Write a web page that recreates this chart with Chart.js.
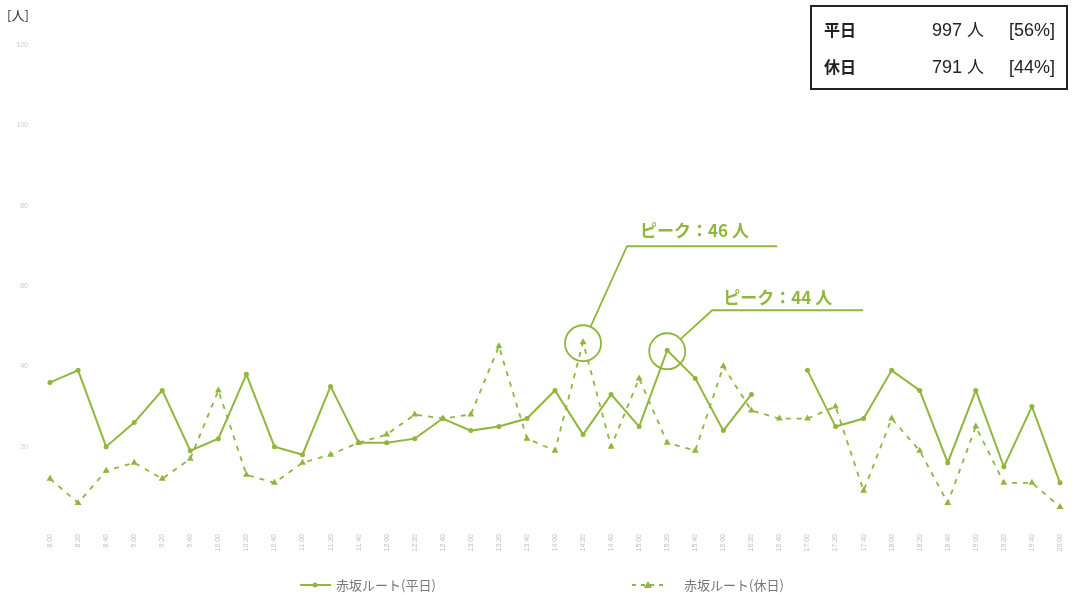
<!DOCTYPE html>
<html lang="ja">
<head>
    <meta charset="UTF-8">
    <title>赤坂ルート 時間帯別人数</title>
    <script src="https://cdn.jsdelivr.net/npm/chart.js"></script>
    <style>
        body {
            margin: 0;
            background: #fff;
            font-family: "Noto Sans CJK JP", "Noto Sans", sans-serif;
        }
        .wrap {
            position: relative;
            width: 1078px;
            height: 595px;
        }
        #unit {
            position: absolute;
            left: 7px;
            top: 5px;
            font-size: 13px;
            color: #333;
        }
        #summary {
            position: absolute;
            left: 810px;
            top: 5px;
            width: 254px;
            height: 81px;
            border: 2px solid #222;
            color: #222;
        }
        #summary .row {
            position: absolute;
            left: 0;
            width: 100%;
            height: 24px;
            display: flex;
            align-items: baseline;
        }
        .k { width: 88px; padding-left: 12px; font-size: 16px; font-weight: bold; }
        .n { width: 72px; text-align: right; font-family: "Liberation Sans", Arial, sans-serif; font-size: 18px; }
        .n b { font-family: "Noto Sans CJK JP"; font-weight: normal; font-size: 17px; }
        .p { flex: 1; text-align: right; padding-right: 11px; font-family: "Liberation Sans", Arial, sans-serif; font-size: 18px; }
    </style>
</head>
<body>
<div class="wrap">
    <canvas id="chart" width="1078" height="595"></canvas>
    <div id="unit">[人]</div>
    <div id="summary">
        <div class="row" style="top:9px"><span class="k">平日</span><span class="n">997 <b>人</b></span><span class="p">[56%]</span></div>
        <div class="row" style="top:46px"><span class="k">休日</span><span class="n">791 <b>人</b></span><span class="p">[44%]</span></div>
    </div>
</div>
<script>
    // 時間帯（20分刻み）
    var labels = ['8:00','8:20','8:40','9:00','9:20','9:40','10:00','10:20','10:40',
        '11:00','11:20','11:40','12:00','12:20','12:40','13:00','13:20','13:40',
        '14:00','14:20','14:40','15:00','15:20','15:40','16:00','16:20','16:40',
        '17:00','17:20','17:40','18:00','18:20','18:40','19:00','19:20','19:40','20:00'];

    var weekday = [36,39,20,26,34,19,22,38,20,18,35,21,21,22,27,24,25,27,34,23,
        33,25,44,37,24,33,null,39,25,27,39,34,16,34,15,30,11];
    var holiday = [12,6,14,16,12,17,34,13,11,16,18,21,23,28,27,28,45,22,19,46,
        20,37,21,19,40,29,27,27,30,9,27,19,6,25,11,11,5];

    var seriesNames = ['赤坂ルート(平日)', '赤坂ルート(休日)'];
    var yTicks = [0, 20, 40, 60, 80, 100, 120];

    // ピーク注記: series, index, text
    var peaks = [
        { series: 1, index: 19, text: 'ピーク：46 人', dx: 44, dy: -97, len: 150, tx: 57, ty: -106 },
        { series: 0, index: 22, text: 'ピーク：44 人', dx: 45, dy: -41, len: 151, tx: 56, ty: -47 }
    ];

    var green = '#90b63e';

    var extras = {
        id: 'extras',
        afterDraw: function(chart) {
            var ctx = chart.ctx;
            ctx.save();
            // peak annotations
            peaks.forEach(function(p) {
                var meta = chart.getDatasetMeta(p.series);
                var pt = meta.data[p.index];
                var cx = pt.x, cy = pt.y + 1, r = 18;
                var ex = cx + p.dx, ey = cy + p.dy;
                var ang = Math.atan2(ey - cy, ex - cx);
                ctx.strokeStyle = green;
                ctx.lineWidth = 1.8;
                ctx.beginPath();
                ctx.arc(cx, cy, r, 0, Math.PI * 2);
                ctx.stroke();
                ctx.beginPath();
                ctx.moveTo(cx + r * Math.cos(ang), cy + r * Math.sin(ang));
                ctx.lineTo(ex, ey);
                ctx.lineTo(ex + p.len, ey);
                ctx.stroke();
                ctx.fillStyle = green;
                ctx.font = 'bold 17px "Noto Sans CJK JP"';
                ctx.textBaseline = 'alphabetic';
                ctx.textAlign = 'left';
                ctx.fillText(p.text, cx + p.tx, cy + p.ty);
            });

            // legend
            var ly = 585;
            ctx.font = '13px "Noto Sans CJK JP"';
            ctx.textBaseline = 'middle';
            // weekday
            ctx.strokeStyle = green;
            ctx.lineWidth = 2;
            ctx.setLineDash([]);
            ctx.beginPath();
            ctx.moveTo(300, ly); ctx.lineTo(331, ly);
            ctx.stroke();
            ctx.fillStyle = green;
            ctx.beginPath(); ctx.arc(315, ly, 2.5, 0, Math.PI * 2); ctx.fill();
            ctx.fillStyle = '#777';
            ctx.fillText(seriesNames[0], 336, ly);
            // holiday
            ctx.setLineDash([4, 5]);
            ctx.beginPath();
            ctx.moveTo(632, ly); ctx.lineTo(664, ly);
            ctx.stroke();
            ctx.setLineDash([]);
            ctx.fillStyle = green;
            ctx.beginPath();
            ctx.moveTo(648, ly - 4); ctx.lineTo(652, ly + 3); ctx.lineTo(644, ly + 3);
            ctx.closePath(); ctx.fill();
            ctx.fillStyle = '#777';
            ctx.fillText(seriesNames[1], 684, ly);
            ctx.restore();
        }
    };

    new Chart(document.getElementById('chart'), {
        type: 'line',
        data: {
            labels: labels,
            datasets: [{
                label: seriesNames[0],
                data: weekday,
                borderColor: green,
                backgroundColor: green,
                borderWidth: 2,
                pointStyle: 'circle',
                pointRadius: 2.5,
                pointBorderWidth: 0,
                spanGaps: false,
                tension: 0
            }, {
                label: seriesNames[1],
                data: holiday,
                borderColor: green,
                backgroundColor: green,
                borderWidth: 1.8,
                borderDash: [5, 6],
                pointStyle: 'triangle',
                pointRadius: 4,
                pointBorderWidth: 0,
                tension: 0
            }]
        },
        options: {
            responsive: false,
            animation: false,
            layout: { padding: { top: 45, right: 3, left: 0, bottom: 0 } },
            plugins: {
                legend: { display: false },
                tooltip: { enabled: false }
            },
            scales: {
                x: {
                    offset: true,
                    grid: { display: false, drawTicks: false },
                    border: { display: false },
                    ticks: {
                        autoSkip: false,
                        minRotation: 90,
                        maxRotation: 90,
                        padding: 7,
                        color: '#c0c0c0',
                        font: { size: 7 }
                    },
                    afterFit: function(s) { s.height = 68; }
                },
                y: {
                    min: 0,
                    max: 120,
                    grid: { display: false, drawTicks: false },
                    border: { display: false },
                    afterBuildTicks: function(s) {
                        s.ticks = yTicks.map(function(v) { return { value: v }; });
                    },
                    ticks: {
                        padding: 8,
                        color: '#cccccc',
                        font: { size: 7 },
                        callback: function(v) { return v === 0 ? '' : v; }
                    },
                    afterFit: function(s) { s.width = 36; }
                }
            }
        },
        plugins: [extras]
    });
</script>
</body>
</html>
